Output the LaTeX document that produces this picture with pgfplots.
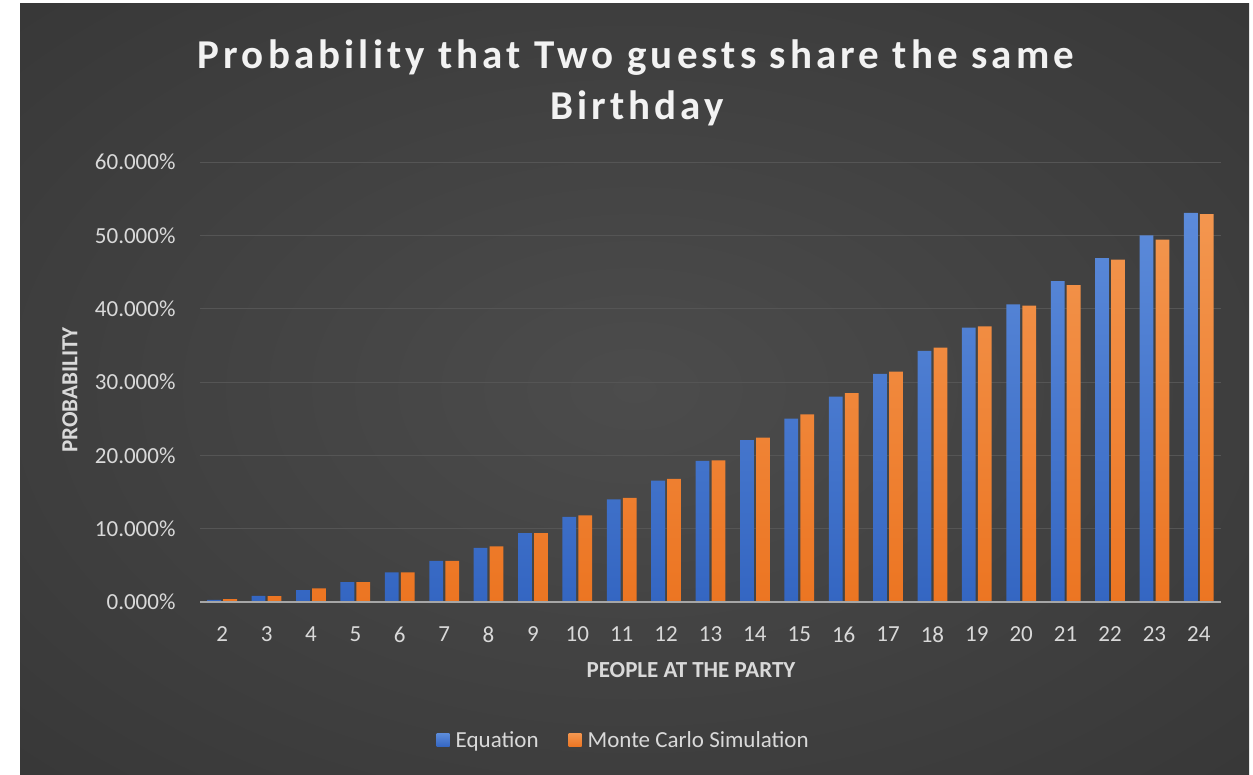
\documentclass[border=0pt]{standalone}
\usepackage{fontspec}
\setmainfont{Carlito}
\newfontfamily\titlefont[LetterSpace=10]{Carlito}
\usepackage{pgfplots}
\pgfplotsset{compat=1.18}
\usepackage{pgfplotstable}

\definecolor{bginner}{HTML}{4C4C4C}
\definecolor{bgmid}{HTML}{383838}
\definecolor{bgouter}{HTML}{262626}
\definecolor{txt}{HTML}{D9D9D9}
\definecolor{gridc}{HTML}{555555}
\definecolor{axc}{HTML}{A6A6A6}
\definecolor{blueT}{HTML}{5C8BDA}
\definecolor{blueB}{HTML}{3466C2}
\definecolor{oraT}{HTML}{F3964F}
\definecolor{oraB}{HTML}{EC7522}
\pgfdeclareradialshading{bgshade}{\pgfpoint{0bp}{0bp}}{color(0bp)=(bginner); color(35bp)=(bgmid); color(72bp)=(bgouter)}

\pgfplotstableread{
n eq mc
2 0.274 0.38
3 0.819 0.80
4 1.630 1.85
5 2.703 2.72
6 4.026 4.05
7 5.591 5.60
8 7.384 7.60
9 9.392 9.40
10 11.599 11.80
11 13.988 14.20
12 16.541 16.80
13 19.240 19.30
14 22.066 22.40
15 24.999 25.60
16 28.019 28.50
17 31.102 31.40
18 34.242 34.70
19 37.404 37.60
20 40.578 40.40
21 43.752 43.20
22 46.896 46.70
23 49.998 49.40
24 53.051 52.90
}\datatable

\begin{document}
\begin{tikzpicture}[x=1pt,y=1pt]
\fill[white] (0,0) rectangle (1253,774);
\shade[shading=bgshade] (20,0) rectangle (1249,770);
\node[text=white!95!black, font=\fontsize{41}{46}\selectfont\bfseries\titlefont] at (636,716) {Probability that Two guests share the same};
\node[text=white!95!black, font=\fontsize{41}{46}\selectfont\bfseries\titlefont] at (637,666) {Birthday};
\begin{axis}[
  at={(200pt,172pt)}, anchor=south west,
  scale only axis, width=1021pt, height=440pt,
  xmin=1.5, xmax=24.5, ymin=0, ymax=60,
  axis line style={draw=none},
  ytick={0,10,...,60},
  xtick={2,...,24},
  major tick length=0pt,
  ymajorgrids, grid style={gridc, line width=1pt},
  tick label style={text=txt, font=\fontsize{23}{26}\selectfont},
  /pgf/number format/assume math mode=true,
  yticklabel={\pgfmathprintnumber[fixed,fixed zerofill,precision=3]{\tick}\%},
  yticklabel style={xshift=-21pt},
  xticklabel style={yshift=-21pt},
  ybar, bar width=0.31,
  legend style={at={(0.415,-0.3136)}, anchor=center, draw=none, fill=none, text=txt,
     font=\fontsize{23}{26}\selectfont, legend columns=2,
     /tikz/every odd column/.append style={column sep=4pt},
     /tikz/every even column/.append style={column sep=28pt}},
  legend image code/.code={\fill[#1] (0pt,-6.5pt) rectangle (13pt,6.5pt);},
  clip=false,
]
\addplot[draw=none, top color=blueT, bottom color=blueB, bar shift=-0.18] table[x=n,y=eq] {\datatable};
\addplot[draw=none, top color=oraT, bottom color=oraB, bar shift=0.18] table[x=n,y=mc] {\datatable};
\draw[axc, line width=2pt] (axis cs:1.5,0) -- (axis cs:24.5,0);
\legend{Equation, Monte Carlo Simulation}
\end{axis}
\node[text=txt, font=\fontsize{23}{26}\selectfont\bfseries] at (691,104) {PEOPLE AT THE PARTY};
\node[text=txt, font=\fontsize{23}{26}\selectfont\bfseries, rotate=90] at (70,384) {PROBABILITY};
\end{tikzpicture}
\end{document}
